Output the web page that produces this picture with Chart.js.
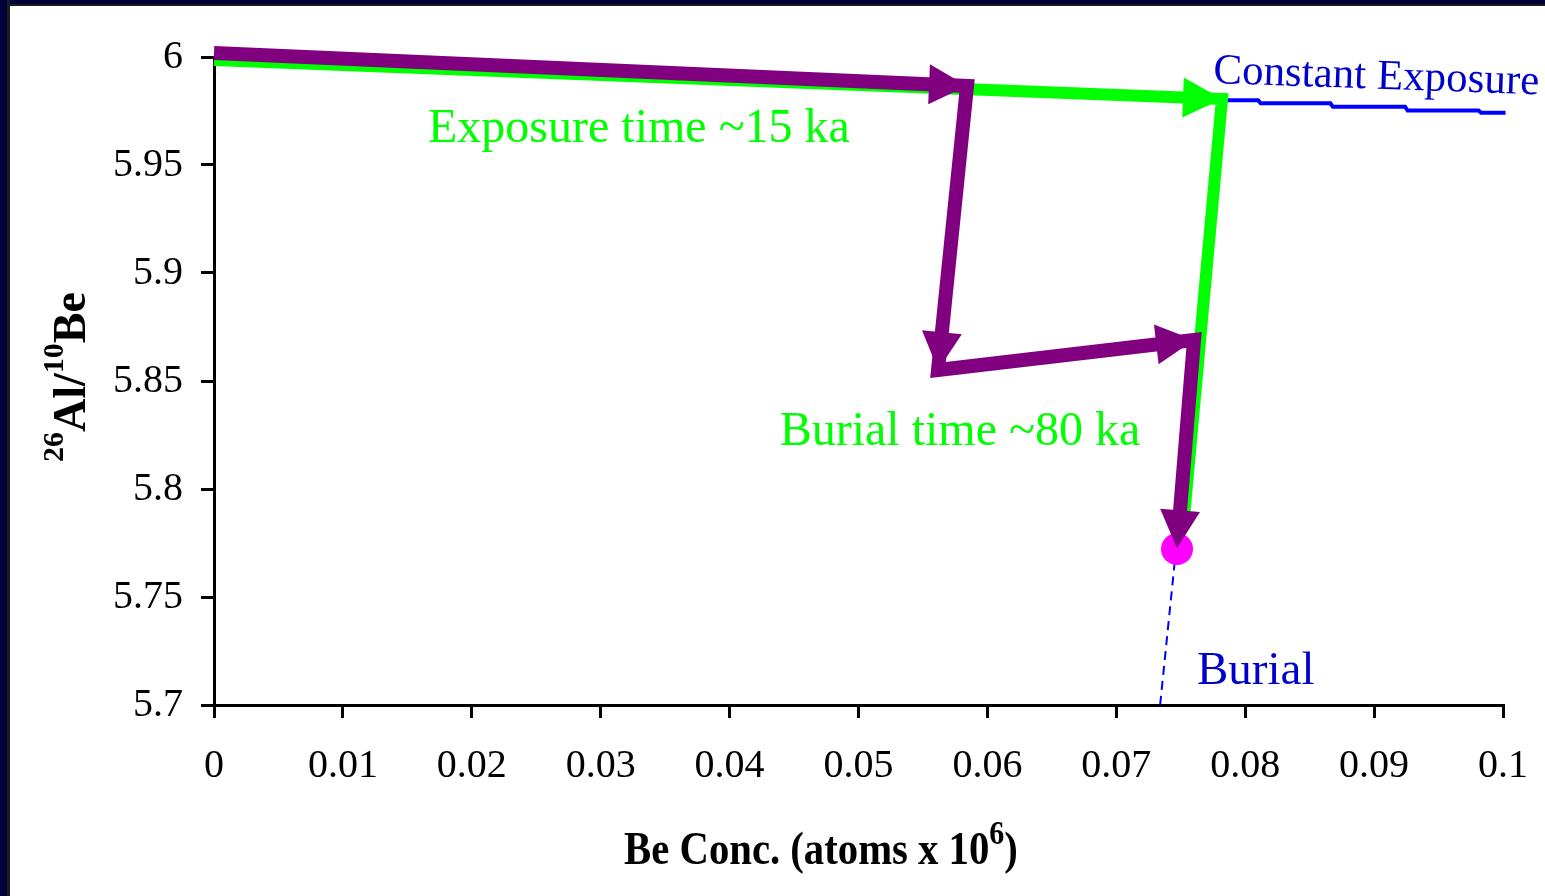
<!DOCTYPE html>
<html>
<head>
<meta charset="utf-8">
<title>26Al/10Be burial plot</title>
<script src="https://cdn.jsdelivr.net/npm/chart.js@4.4.1/dist/chart.umd.min.js"></script>
<style>
  html, body { margin: 0; padding: 0; background: #ffffff; width: 1545px; height: 896px; overflow: hidden; }
  .frame-top { position: absolute; left: 0; top: 0; width: 1545px; height: 4px; background: #00003a; border-bottom: 2px solid #1c1c1c; }
  .frame-left { position: absolute; left: 0; top: 0; width: 7px; height: 896px; background: #00003a; border-right: 3px solid #1c1c1c; }
  canvas { position: absolute; left: 0; top: 0; }
</style>
</head>
<body>
<div class="frame-top"></div>
<div class="frame-left"></div>
<canvas id="chart" width="1545" height="896"></canvas>
<script>
// Axis ticks
const xTickValues = [0, 0.01, 0.02, 0.03, 0.04, 0.05, 0.06, 0.07, 0.08, 0.09, 0.1];
const xTickLabels = ['0', '0.01', '0.02', '0.03', '0.04', '0.05', '0.06', '0.07', '0.08', '0.09', '0.1'];
const yTickValues = [5.7, 5.75, 5.8, 5.85, 5.9, 5.95, 6];
const yTickLabels = ['5.7', '5.75', '5.8', '5.85', '5.9', '5.95', '6'];

// Constant exposure curve (stepped)
const exposureX = [0, 0.0782, 0.0810, 0.0812, 0.0866, 0.0868, 0.0924, 0.0926, 0.0981, 0.0983, 0.1002];
const exposureY = [6.000, 5.9800, 5.9800, 5.9786, 5.9786, 5.9770, 5.9770, 5.9752, 5.9752, 5.9742, 5.9742];

// Burial trajectory (dashed)
const burialX = [0.0782, 0.0734];
const burialY = [5.9806, 5.700];

// Exposure then burial path (green arrows)
const greenPathX = [0, 0.0782, 0.0752];
const greenPathY = [5.9986, 5.9806, 5.7833];

// Exposure / burial / re-exposure / burial path (purple arrows)
const purplePathX = [0, 0.05842, 0.05617, 0.07603, 0.07479];
const purplePathY = [6.0019, 5.98657, 5.85509, 5.86898, 5.77870];

// Measured sample
const sampleX = [0.07471];
const sampleY = [5.77222];

const toPoints = (xs, ys) => xs.map((x, i) => ({ x: x, y: ys[i] }));

const SERIF = "'Liberation Serif', 'Times New Roman', serif";

// Text notes placed in data coordinates
const notes = [
  { text: 'Exposure time ~15 ka', x: 0.03297, y: 5.9607, align: 'center', color: '#00ff00', size: 48, angle: 0 },
  { text: 'Burial time ~80 ka', x: 0.05787, y: 5.8204, align: 'center', color: '#00ff00', size: 48, angle: 0 },
  { text: 'Constant Exposure', x: 0.0775, y: 5.9880, align: 'left', color: '#0000cc', size: 43, angle: 2 },
  { text: 'Burial', x: 0.07626, y: 5.7097, align: 'left', color: '#0000cc', size: 47, angle: 0 }
];

// Arrowheads drawn at the flagged vertices of a path
const arrowPlugin = {
  id: 'arrowHeads',
  afterDatasetsDraw(chart) {
    const ctx = chart.ctx;
    ctx.save();
    for (let i = chart.data.datasets.length - 1; i >= 0; i--) {
      const ds = chart.data.datasets[i];
      if (!ds.arrowHeads) continue;
      const pts = chart.getDatasetMeta(i).data;
      const L = ds.headLength, W = ds.headHalfWidth;
      ctx.fillStyle = ds.borderColor;
      ds.arrowHeads.forEach(idx => {
        const a = pts[idx - 1], b = pts[idx];
        const dx = b.x - a.x, dy = b.y - a.y;
        const len = Math.hypot(dx, dy);
        const ux = dx / len, uy = dy / len;
        let tx = b.x, ty = b.y;
        if (idx === pts.length - 1) {
          const ext = ds.borderWidth / 2 * L / W;
          tx += ux * ext; ty += uy * ext;
        }
        const bx = tx - ux * L, by = ty - uy * L;
        ctx.beginPath();
        ctx.moveTo(tx, ty);
        ctx.lineTo(bx - uy * W, by + ux * W);
        ctx.lineTo(bx + uy * W, by - ux * W);
        ctx.closePath();
        ctx.fill();
      });
    }
    ctx.restore();
  }
};

// Draws a run of text pieces, some raised as superscripts
function drawRich(ctx, pieces, cx, baseline, weight, size, supSize, raise) {
  let total = 0;
  pieces.forEach(p => {
    ctx.font = weight + ' ' + (p.sup ? supSize : size) + 'px ' + SERIF;
    p.w = ctx.measureText(p.t).width;
    total += p.w;
  });
  let x = cx - total / 2;
  ctx.textAlign = 'left';
  ctx.textBaseline = 'alphabetic';
  pieces.forEach(p => {
    ctx.font = weight + ' ' + (p.sup ? supSize : size) + 'px ' + SERIF;
    ctx.fillText(p.t, x, p.sup ? baseline - raise : baseline);
    x += p.w;
  });
}

const textPlugin = {
  id: 'chartText',
  afterDraw(chart) {
    const ctx = chart.ctx;
    const xs = chart.scales.x, ys = chart.scales.y;
    ctx.save();
    notes.forEach(n => {
      const px = xs.getPixelForValue(n.x), py = ys.getPixelForValue(n.y);
      ctx.save();
      ctx.translate(px, py);
      ctx.rotate(n.angle * Math.PI / 180);
      ctx.font = n.size + 'px ' + SERIF;
      ctx.fillStyle = n.color;
      ctx.textAlign = n.align;
      ctx.textBaseline = 'alphabetic';
      ctx.fillText(n.text, 0, 0);
      ctx.restore();
    });

    ctx.fillStyle = '#000000';
    // x-axis title
    ctx.save();
    ctx.translate(821, 864);
    ctx.scale(0.885, 1);
    drawRich(ctx, [{ t: 'Be Conc. (atoms x 10' }, { t: '6', sup: true }, { t: ')' }], 0, 0, 'bold', 46, 34, 20);
    ctx.restore();

    // y-axis title
    ctx.save();
    ctx.translate(85, 377);
    ctx.rotate(-Math.PI / 2);
    drawRich(ctx, [{ t: '26', sup: true }, { t: 'Al/' }, { t: '10', sup: true }, { t: 'Be' }], 0, 0, 'bold', 46, 30, 22);
    ctx.restore();
    ctx.restore();
  }
};

const tickFont = { family: SERIF, size: 40 };

new Chart(document.getElementById('chart'), {
  type: 'scatter',
  data: {
    datasets: [
      {
        data: toPoints(purplePathX, purplePathY),
        showLine: true, borderColor: '#800080', borderWidth: 14, pointRadius: 0,
        borderJoinStyle: 'miter', borderCapStyle: 'butt', tension: 0, clip: false,
        arrowHeads: [1, 2, 3, 4], headLength: 38, headHalfWidth: 20
      },
      {
        data: toPoints(sampleX, sampleY),
        showLine: false, pointRadius: 16, pointBackgroundColor: '#ff00ff', pointBorderWidth: 0, clip: false
      },
      {
        data: toPoints(greenPathX, greenPathY),
        showLine: true, borderColor: '#00ff00', borderWidth: 12, pointRadius: 0,
        borderJoinStyle: 'miter', borderCapStyle: 'butt', tension: 0, clip: false,
        arrowHeads: [1], headLength: 39, headHalfWidth: 20
      },
      {
        data: toPoints(burialX, burialY),
        showLine: true, borderColor: '#0000ff', borderWidth: 2, borderDash: [9, 6], pointRadius: 0, tension: 0, clip: false
      },
      {
        data: toPoints(exposureX, exposureY),
        showLine: true, borderColor: '#0000ff', borderWidth: 4, pointRadius: 0, tension: 0, clip: false
      }
    ]
  },
  options: {
    responsive: false,
    animation: false,
    devicePixelRatio: 1,
    events: [],
    layout: { padding: { top: 57, right: 42, bottom: 0, left: 0 } },
    plugins: { legend: { display: false }, tooltip: { enabled: false } },
    scales: {
      x: {
        type: 'linear', min: 0, max: 0.1,
        afterBuildTicks: s => { s.ticks = xTickValues.map(v => ({ value: v })); },
        afterFit: s => { s.height = 191; s.paddingLeft = 0; s.paddingRight = 0; },
        ticks: { autoSkip: false, maxRotation: 0, color: '#000', font: tickFont, padding: 24,
                 callback: (v, i) => xTickLabels[i] },
        grid: { drawOnChartArea: false, drawTicks: true, tickLength: 13, color: '#000', lineWidth: 3 },
        border: { display: true, color: '#000', width: 3 }
      },
      y: {
        type: 'linear', min: 5.7, max: 6,
        afterBuildTicks: s => { s.ticks = yTickValues.map(v => ({ value: v })); },
        afterFit: s => { s.width = 214; s.paddingTop = 0; s.paddingBottom = 0; },
        ticks: { autoSkip: false, color: '#000', font: tickFont, padding: 18,
                 callback: (v, i) => yTickLabels[i] },
        grid: { drawOnChartArea: false, drawTicks: true, tickLength: 13, color: '#000', lineWidth: 3 },
        border: { display: true, color: '#000', width: 3 }
      }
    }
  },
  plugins: [arrowPlugin, textPlugin]
});
</script>
</body>
</html>
